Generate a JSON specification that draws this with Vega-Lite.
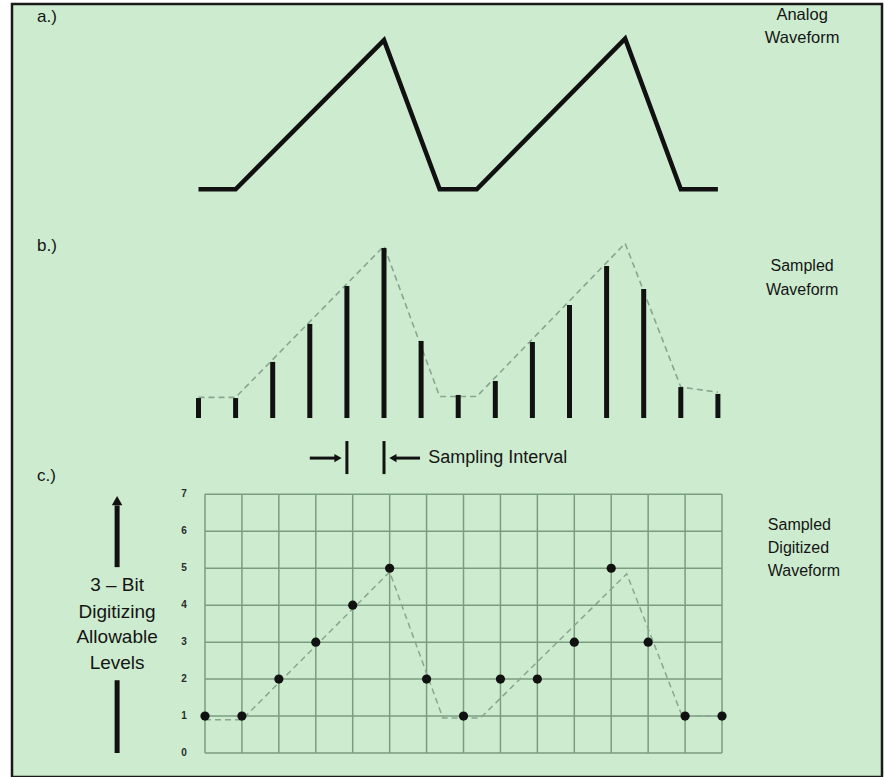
{
  "$schema": "https://vega.github.io/schema/vega-lite/v6.json",
  "width": 885,
  "height": 777,
  "autosize": {"type": "fit", "contains": "padding"},
  "padding": {"left": 12, "top": 4, "right": 3, "bottom": 0},
  "background": "white",
  "config": {
    "view": {"fill": "#cdeccf", "stroke": "#1a1a1a", "strokeWidth": 2.5},
    "text": {"font": "Liberation Sans", "fill": "#151515"}
  },
  "resolve": {"scale": {"x": "independent", "y": "independent"}},
  "layer": [
    {
      "encoding": {
        "x": {"field": "x", "type": "quantitative", "axis": null, "scale": {"domain": [-5.027, 18.423], "nice": false, "zero": false}},
        "y": {"field": "y", "type": "quantitative", "axis": null, "scale": {"domain": [-39.39, 12.42], "nice": false, "zero": false}}
      },
      "layer": [
        {
          "data": {"values": [
            {"x": 0, "y": 0}, {"x": 1, "y": 0}, {"x": 5, "y": 10}, {"x": 6.5, "y": 0},
            {"x": 7.5, "y": 0}, {"x": 11.5, "y": 10.1}, {"x": 13, "y": 0}, {"x": 14, "y": 0}
          ]},
          "mark": {"type": "line", "stroke": "#111111", "strokeWidth": 4.5, "strokeJoin": "miter", "strokeCap": "butt"},
          "encoding": {"order": {"field": "x"}}
        },
        {
          "data": {"values": [
            {"x": -4.35, "y": 11.54, "label": "a.)"}
          ]},
          "mark": {"type": "text", "align": "left", "baseline": "middle", "fontSize": 17},
          "encoding": {"text": {"field": "label"}}
        },
        {
          "data": {"values": [
            {"x": 16.27, "y": 11.68, "label": "Analog"},
            {"x": 16.27, "y": 10.13, "label": "Waveform"}
          ]},
          "mark": {"type": "text", "align": "center", "baseline": "middle", "fontSize": 16.5},
          "encoding": {"text": {"field": "label"}}
        }
      ]
    },
    {
      "encoding": {
        "x": {"field": "x", "type": "quantitative", "axis": null, "scale": {"domain": [-5.027, 18.423], "nice": false, "zero": false}},
        "y": {"field": "y", "type": "quantitative", "axis": null, "scale": {"domain": [-20.872, 24.07], "nice": false, "zero": false}}
      },
      "layer": [
        {
          "data": {"values": [
            {"x": 0, "y": 1.2}, {"x": 1, "y": 1.2}, {"x": 5, "y": 10.0}, {"x": 6.5, "y": 1.25},
            {"x": 7.5, "y": 1.25}, {"x": 11.5, "y": 10.15}, {"x": 13, "y": 1.8}, {"x": 14, "y": 1.5}
          ]},
          "mark": {"type": "line", "stroke": "#88a590", "strokeWidth": 1.6, "strokeDash": [6, 4]},
          "encoding": {"order": {"field": "x"}}
        },
        {
          "data": {"values": [
            {"x": 0, "y": 1.16}, {"x": 1, "y": 1.16}, {"x": 2, "y": 3.26}, {"x": 3, "y": 5.47},
            {"x": 4, "y": 7.67}, {"x": 5, "y": 9.88}, {"x": 6, "y": 4.48}, {"x": 7, "y": 1.34},
            {"x": 8, "y": 2.15}, {"x": 9, "y": 4.42}, {"x": 10, "y": 6.57}, {"x": 11, "y": 8.84},
            {"x": 12, "y": 7.5}, {"x": 13, "y": 1.8}, {"x": 14, "y": 1.4}
          ]},
          "mark": {"type": "rule", "stroke": "#111111", "strokeWidth": 5},
          "encoding": {"y2": {"datum": 0}}
        },
        {
          "data": {"values": [
            {"x": 4, "y": -1.34, "y2": -3.26},
            {"x": 5, "y": -1.34, "y2": -3.26}
          ]},
          "mark": {"type": "rule", "stroke": "#111111", "strokeWidth": 3},
          "encoding": {"y2": {"field": "y2"}}
        },
        {
          "data": {"values": [
            {"x": 3.0, "x2": 3.7, "y": -2.33},
            {"x": 5.3, "x2": 5.97, "y": -2.33}
          ]},
          "mark": {"type": "rule", "stroke": "#111111", "strokeWidth": 3},
          "encoding": {"x2": {"field": "x2"}}
        },
        {
          "data": {"values": [
            {"x": 3.76, "y": -2.33, "dir": "triangle-right"},
            {"x": 5.24, "y": -2.33, "dir": "triangle-left"}
          ]},
          "mark": {"type": "point", "filled": true, "fill": "#111111", "size": 70, "opacity": 1},
          "encoding": {"shape": {"field": "dir", "type": "nominal", "scale": null, "legend": null}}
        },
        {
          "data": {"values": [
            {"x": -4.35, "y": 10.0, "label": "b.)"}
          ]},
          "mark": {"type": "text", "align": "left", "baseline": "middle", "fontSize": 17},
          "encoding": {"text": {"field": "label"}}
        },
        {
          "data": {"values": [
            {"x": 16.27, "y": 8.84, "label": "Sampled"},
            {"x": 16.27, "y": 7.44, "label": "Waveform"}
          ]},
          "mark": {"type": "text", "align": "center", "baseline": "middle", "fontSize": 16},
          "encoding": {"text": {"field": "label"}}
        },
        {
          "data": {"values": [
            {"x": 6.19, "y": -2.33, "label": "Sampling Interval"}
          ]},
          "mark": {"type": "text", "align": "left", "baseline": "middle", "fontSize": 18},
          "encoding": {"text": {"field": "label"}}
        }
      ]
    },
    {
      "encoding": {
        "x": {"field": "x", "type": "quantitative", "axis": null, "scale": {"domain": [-5.226, 18.332], "nice": false, "zero": false}},
        "y": {"field": "y", "type": "quantitative", "axis": null, "scale": {"domain": [-0.649, 20.27], "nice": false, "zero": false}}
      },
      "layer": [
        {
          "data": {"values": [
            {"x": 0, "y": 0, "y2": 7}, {"x": 1, "y": 0, "y2": 7}, {"x": 2, "y": 0, "y2": 7},
            {"x": 3, "y": 0, "y2": 7}, {"x": 4, "y": 0, "y2": 7}, {"x": 5, "y": 0, "y2": 7},
            {"x": 6, "y": 0, "y2": 7}, {"x": 7, "y": 0, "y2": 7}, {"x": 8, "y": 0, "y2": 7},
            {"x": 9, "y": 0, "y2": 7}, {"x": 10, "y": 0, "y2": 7}, {"x": 11, "y": 0, "y2": 7},
            {"x": 12, "y": 0, "y2": 7}, {"x": 13, "y": 0, "y2": 7}, {"x": 14, "y": 0, "y2": 7}
          ]},
          "mark": {"type": "rule", "stroke": "#7a9c7f", "strokeWidth": 1.5},
          "encoding": {"y2": {"field": "y2"}}
        },
        {
          "data": {"values": [
            {"x": 0, "x2": 14, "y": 0}, {"x": 0, "x2": 14, "y": 1}, {"x": 0, "x2": 14, "y": 2},
            {"x": 0, "x2": 14, "y": 3}, {"x": 0, "x2": 14, "y": 4}, {"x": 0, "x2": 14, "y": 5},
            {"x": 0, "x2": 14, "y": 6}, {"x": 0, "x2": 14, "y": 7}
          ]},
          "mark": {"type": "rule", "stroke": "#7a9c7f", "strokeWidth": 1.5},
          "encoding": {"x2": {"field": "x2"}}
        },
        {
          "data": {"values": [
            {"x": 0, "y": 0.9}, {"x": 1, "y": 0.9}, {"x": 5, "y": 4.9}, {"x": 6.44, "y": 0.95},
            {"x": 7.46, "y": 0.95}, {"x": 11.42, "y": 4.85}, {"x": 12.92, "y": 1.0}, {"x": 14, "y": 1.0}
          ]},
          "mark": {"type": "line", "stroke": "#8aa691", "strokeWidth": 1.5, "strokeDash": [6, 4]},
          "encoding": {"order": {"field": "x"}}
        },
        {
          "data": {"values": [
            {"x": 0, "y": 1}, {"x": 1, "y": 1}, {"x": 2, "y": 2}, {"x": 3, "y": 3},
            {"x": 4, "y": 4}, {"x": 5, "y": 5}, {"x": 6, "y": 2}, {"x": 7, "y": 1},
            {"x": 8, "y": 2}, {"x": 9, "y": 2}, {"x": 10, "y": 3}, {"x": 11, "y": 5},
            {"x": 12, "y": 3}, {"x": 13, "y": 1}, {"x": 14, "y": 1}
          ]},
          "mark": {"type": "circle", "fill": "#111111", "size": 85, "opacity": 1}
        },
        {
          "data": {"values": [
            {"x": -0.57, "y": 0, "label": "0"}, {"x": -0.57, "y": 1, "label": "1"},
            {"x": -0.57, "y": 2, "label": "2"}, {"x": -0.57, "y": 3, "label": "3"},
            {"x": -0.57, "y": 4, "label": "4"}, {"x": -0.57, "y": 5, "label": "5"},
            {"x": -0.57, "y": 6, "label": "6"}, {"x": -0.57, "y": 7, "label": "7"}
          ]},
          "mark": {"type": "text", "align": "center", "baseline": "middle", "fontSize": 10, "fontWeight": "bold", "fill": "#2a2a2a"},
          "encoding": {"text": {"field": "label"}}
        },
        {
          "data": {"values": [
            {"x": -2.38, "y": 5.03, "y2": 6.7},
            {"x": -2.38, "y": 0.0, "y2": 1.97}
          ]},
          "mark": {"type": "rule", "stroke": "#111111", "strokeWidth": 5},
          "encoding": {"y2": {"field": "y2"}}
        },
        {
          "data": {"values": [
            {"x": -2.38, "y": 6.83}
          ]},
          "mark": {"type": "point", "shape": "triangle-up", "filled": true, "fill": "#111111", "size": 110, "opacity": 1}
        },
        {
          "data": {"values": [
            {"x": -4.55, "y": 7.49, "label": "c.)"}
          ]},
          "mark": {"type": "text", "align": "left", "baseline": "middle", "fontSize": 17},
          "encoding": {"text": {"field": "label"}}
        },
        {
          "data": {"values": [
            {"x": -2.38, "y": 4.54, "label": "3 – Bit"},
            {"x": -2.38, "y": 3.82, "label": "Digitizing"},
            {"x": -2.38, "y": 3.14, "label": "Allowable"},
            {"x": -2.38, "y": 2.44, "label": "Levels"}
          ]},
          "mark": {"type": "text", "align": "center", "baseline": "middle", "fontSize": 19},
          "encoding": {"text": {"field": "label"}}
        },
        {
          "data": {"values": [
            {"x": 15.24, "y": 6.16, "label": "Sampled"},
            {"x": 15.24, "y": 5.54, "label": "Digitized"},
            {"x": 15.24, "y": 4.92, "label": "Waveform"}
          ]},
          "mark": {"type": "text", "align": "left", "baseline": "middle", "fontSize": 16},
          "encoding": {"text": {"field": "label"}}
        }
      ]
    }
  ]
}
